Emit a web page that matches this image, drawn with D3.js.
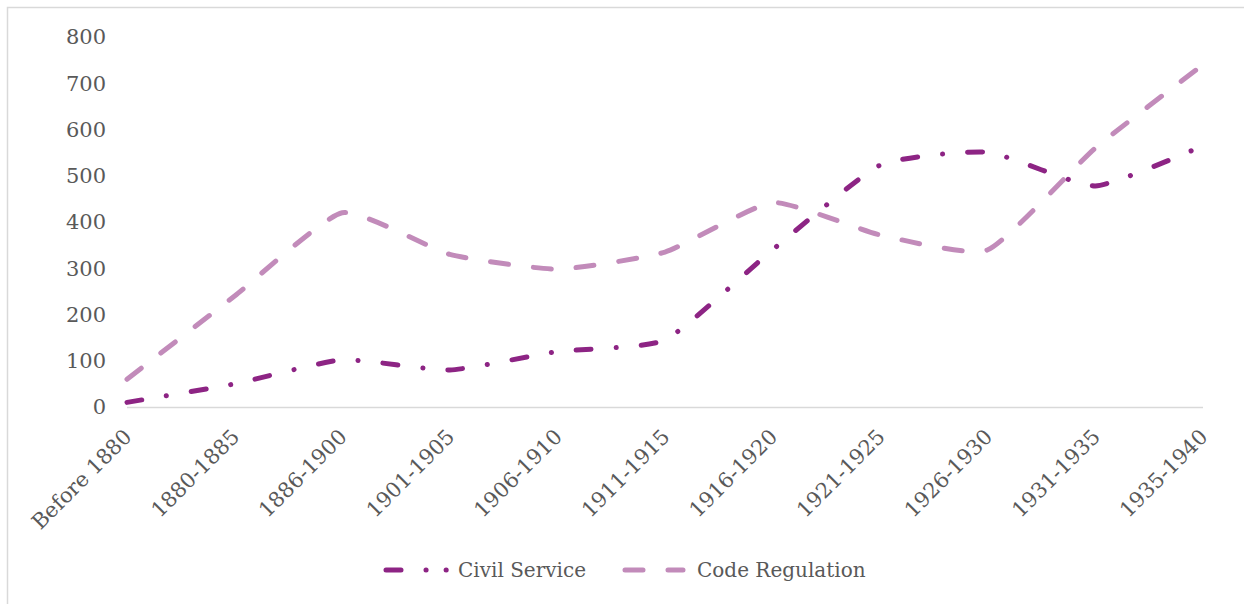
<!DOCTYPE html>
<html>
<head>
<meta charset="utf-8">
<script src="https://cdn.jsdelivr.net/npm/d3@7"></script>
<style>
  body { margin: 0; background: #fff; }
  svg { display: block; font-family: Georgia, "DejaVu Serif", serif; }
</style>
</head>
<body>
<div id="chart"></div>
<script>
const periods = ["Before 1880", "1880-1885", "1886-1900", "1901-1905", "1906-1910", "1911-1915",
                 "1916-1920", "1921-1925", "1926-1930", "1931-1935", "1935-1940"];
const civilService = [10, 50, 102, 80, 120, 145, 340, 523, 551, 478, 565];
const codeRegulation = [60, 240, 420, 330, 298, 335, 442, 372, 340, 560, 740];
const yTicks = [0, 100, 200, 300, 400, 500, 600, 700, 800];

const width = 1244, height = 604;
const plotLeft = 127, plotRight = 1203, plotTop = 37, plotBottom = 407;

const series = [
  { name: "Civil Service", values: civilService, color: "#8d2484", dash: "15,25,0.1,25" },
  { name: "Code Regulation", values: codeRegulation, color: "#c28bba", dash: "18,25" }
];

const svg = d3.select("#chart").append("svg")
    .attr("width", width)
    .attr("height", height);

// outer frame
svg.append("rect")
    .attr("x", 7.5).attr("y", 7.5)
    .attr("width", width + 10).attr("height", height + 10)
    .attr("fill", "none")
    .attr("stroke", "#d9d9d9")
    .attr("stroke-width", 1.5);

const x = d3.scalePoint().domain(periods).range([plotLeft, plotRight]);
const y = d3.scaleLinear().domain([0, 800]).range([plotBottom, plotTop]);

// y labels
svg.append("g")
  .selectAll("text")
  .data(yTicks)
  .join("text")
    .attr("x", 106)
    .attr("y", d => y(d))
    .attr("dy", "0.35em")
    .attr("text-anchor", "end")
    .attr("fill", "#595959")
    .style("font-size", "21px")
    .text(d => d);

// x axis line
svg.append("line")
    .attr("x1", plotLeft).attr("x2", plotRight)
    .attr("y1", plotBottom + 0.5).attr("y2", plotBottom + 0.5)
    .attr("stroke", "#d9d9d9")
    .attr("stroke-width", 1.5);

// x labels, rotated
svg.append("g")
  .selectAll("text")
  .data(periods)
  .join("text")
    .attr("transform", d => `translate(${x(d) + 6},${plotBottom + 31}) rotate(-45)`)
    .attr("text-anchor", "end")
    .attr("fill", "#595959")
    .style("font-size", "21px")
    .text(d => d);

const line = d3.line()
    .x((d, i) => x(periods[i]))
    .y(d => y(d))
    .curve(d3.curveCardinal.tension(0.5));

svg.append("g")
  .selectAll("path")
  .data(series.slice().reverse())
  .join("path")
    .attr("d", d => line(d.values))
    .attr("fill", "none")
    .attr("stroke", d => d.color)
    .attr("stroke-width", 5)
    .attr("stroke-linecap", "round")
    .attr("stroke-dasharray", d => d.dash);

// legend
const legendItems = [
  { s: series[0], x0: 386, x1: 452, tx: 458 },
  { s: series[1], x0: 625, x1: 683, tx: 697 }
];
const lg = svg.append("g");
legendItems.forEach(it => {
  lg.append("line")
      .attr("x1", it.x0).attr("x2", it.x1)
      .attr("y1", 570).attr("y2", 570)
      .attr("stroke", it.s.color)
      .attr("stroke-width", 5)
      .attr("stroke-linecap", "round")
      .attr("stroke-dasharray", it.s.name === "Civil Service" ? "15,25,0.1,20,0.1,20" : "18,25");
  lg.append("text")
      .attr("x", it.tx)
      .attr("y", 570)
      .attr("dy", "0.35em")
      .attr("fill", "#595959")
      .style("font-size", "20px")
      .text(it.s.name);
});
</script>
</body>
</html>
